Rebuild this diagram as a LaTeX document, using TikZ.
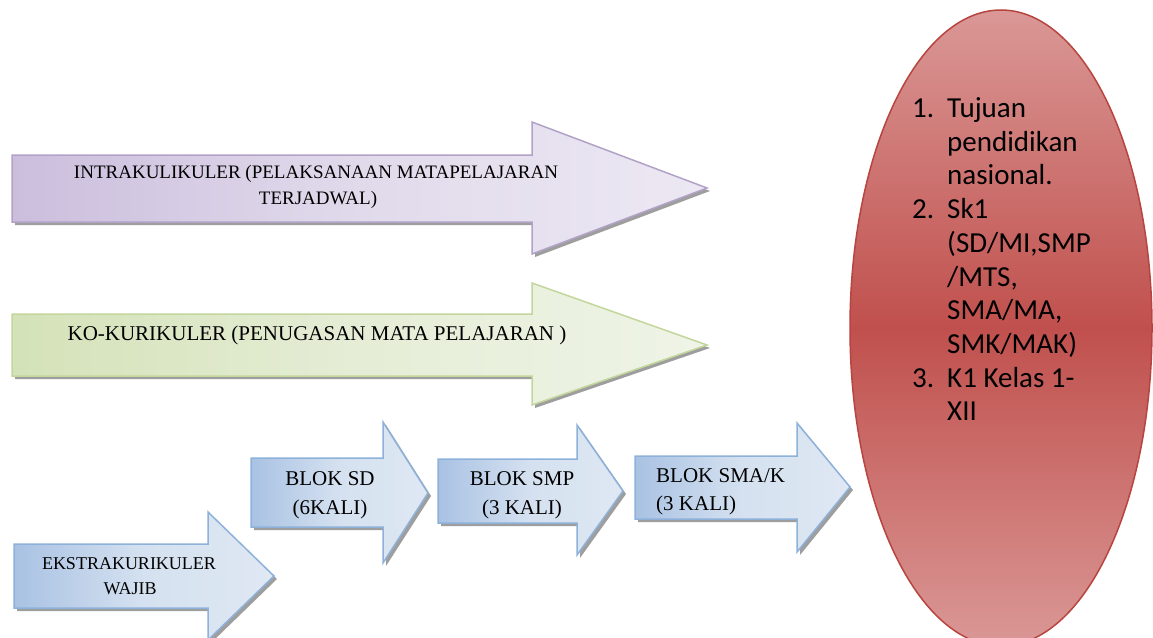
\documentclass[tikz,border=0pt]{standalone}
\usepackage{fontspec}
\setmainfont{Liberation Serif}
\newfontfamily\listfont{Carlito}
\usetikzlibrary{shapes.geometric}

\definecolor{purpline}{HTML}{B3A2C7}
\definecolor{purpdark}{HTML}{CBBEDD}
\definecolor{purpmid}{HTML}{E1DAEB}
\definecolor{purplight}{HTML}{ECE8F3}
\definecolor{greenline}{HTML}{C3D69B}
\definecolor{greendark}{HTML}{D4E2B8}
\definecolor{greenmid}{HTML}{E5EDD6}
\definecolor{greenlight}{HTML}{EFF4E7}
\definecolor{blueline}{HTML}{8EB1DA}
\definecolor{bluedark}{HTML}{A9C2E3}
\definecolor{bluemid}{HTML}{D5E1F0}
\definecolor{bluelight}{HTML}{DFE8F3}
\definecolor{redline}{HTML}{B8443F}
\definecolor{redlight}{HTML}{DA9896}
\definecolor{reddark}{HTML}{C0504D}

\tikzset{
  shadowed/.style={preaction={fill=black!38, transform canvas={shift={(3pt,-3pt)}}}},
  purparrow/.style={shadowed, draw=purpline, line width=1.5pt, left color=purpdark, right color=purplight, middle color=purpmid},
  greenarrow/.style={shadowed, draw=greenline, line width=1.5pt, left color=greendark, right color=greenlight, middle color=greenmid},
  bluearrow/.style={shadowed, draw=blueline, line width=1.5pt, left color=bluedark, right color=bluelight, middle color=bluemid},
  goalshape/.style={ellipse, draw=redline, line width=1.5pt, inner sep=0, minimum width=302pt, minimum height=636pt, top color=redlight, bottom color=redlight, middle color=reddark},
  arrowtext/.style={anchor=base, inner sep=0},
  listtext/.style={anchor=base west, inner sep=0, font=\listfont\fontsize{29pt}{34pt}\selectfont}
}

\begin{document}
\begin{tikzpicture}[x=1pt, y=-1pt]
\fill [white] (0, 0) rectangle (1153, 637);
\useasboundingbox (0, 0) rectangle (1153, 637);

% big arrows
\draw [purparrow] (12, 155) -- (532, 155) -- (532, 122) -- (707, 188) -- (532, 254) -- (532, 222) -- (12, 222) -- cycle;
\draw [greenarrow] (12, 314) -- (532, 314) -- (532, 283) -- (707, 345) -- (532, 405) -- (532, 376) -- (12, 376) -- cycle;

% block arrows
\draw [bluearrow] (14, 544) -- (208, 544) -- (208, 512) -- (274, 576) -- (208, 640) -- (208, 608) -- (14, 608) -- cycle;
\draw [bluearrow] (251, 458) -- (383, 458) -- (383, 422) -- (428, 493) -- (383, 563) -- (383, 527) -- (251, 527) -- cycle;
\draw [bluearrow] (438, 459) -- (577, 459) -- (577, 425) -- (623, 491) -- (577, 555) -- (577, 523) -- (438, 523) -- cycle;
\draw [bluearrow] (635, 456) -- (797, 456) -- (797, 423) -- (850, 487) -- (797, 552) -- (797, 519) -- (635, 519) -- cycle;

\node (goal) at (1001, 328) [goalshape] {};

\node (intra1) at (316, 178) [arrowtext, font=\fontsize{19pt}{26pt}\selectfont] {INTRAKULIKULER (PELAKSANAAN MATAPELAJARAN};
\node (intra2) at (318, 204) [arrowtext, font=\fontsize{19pt}{26pt}\selectfont] {TERJADWAL)};
\node (ko) at (317, 340) [arrowtext, font=\fontsize{21pt}{29pt}\selectfont] {KO-KURIKULER (PENUGASAN MATA PELAJARAN )};
\node (ekstra1) at (129, 569) [arrowtext, font=\fontsize{18pt}{25pt}\selectfont] {EKSTRAKURIKULER};
\node (ekstra2) at (130, 594) [arrowtext, font=\fontsize{18pt}{25pt}\selectfont] {WAJIB};
\node (sd1) at (330, 485) [arrowtext, font=\fontsize{21pt}{29pt}\selectfont] {BLOK SD};
\node (sd2) at (330, 514) [arrowtext, font=\fontsize{21pt}{29pt}\selectfont] {(6KALI)};
\node (smp1) at (522, 485) [arrowtext, font=\fontsize{21pt}{29pt}\selectfont] {BLOK SMP};
\node (smp2) at (522, 514) [arrowtext, font=\fontsize{21pt}{29pt}\selectfont] {(3 KALI)};
\node (sma1) at (656, 482) [arrowtext, anchor=base west, font=\fontsize{21pt}{29pt}\selectfont] {BLOK SMA/K};
\node (sma2) at (656, 510) [arrowtext, anchor=base west, font=\fontsize{21pt}{29pt}\selectfont] {(3 KALI)};

% list in the ellipse
\node (num1) at (912, 117) [listtext] {1.};
\node (line1) at (947, 117) [listtext] {Tujuan};
\node (line2) at (947, 151) [listtext] {pendidikan};
\node (line3) at (947, 184) [listtext] {nasional.};
\node (num2) at (912, 218) [listtext] {2.};
\node (line4) at (947, 218) [listtext] {Sk1};
\node (line5) at (947, 252) [listtext] {(SD/MI,SMP};
\node (line6) at (947, 286) [listtext] {/MTS,};
\node (line7) at (947, 319) [listtext] {SMA/MA,};
\node (line8) at (947, 353) [listtext] {SMK/MAK)};
\node (num3) at (912, 387) [listtext] {3.};
\node (line9) at (947, 387) [listtext] {K1 Kelas 1-};
\node (line10) at (947, 420) [listtext] {XII};
\end{tikzpicture}
\end{document}
